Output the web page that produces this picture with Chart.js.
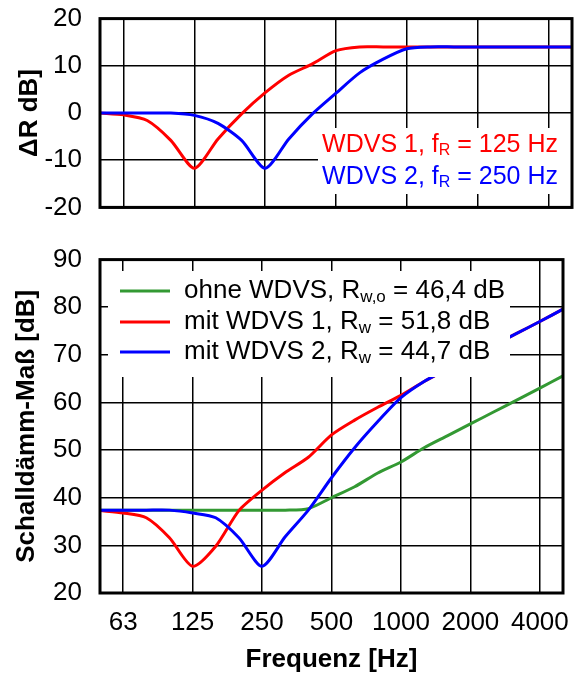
<!DOCTYPE html>
<html><head><meta charset="utf-8">
<script src="https://cdn.jsdelivr.net/npm/chart.js@4"></script>
<style>
html,body{margin:0;padding:0;background:#fff;}
#wrap{position:relative;width:577px;height:675px;overflow:hidden;}
#c1{position:absolute;left:0;top:-15px;}
#c2{position:absolute;left:0;top:226px;}
</style></head><body>
<div id="wrap">
<canvas id="c1" width="577" height="256" style="width:577px;height:256px"></canvas>
<canvas id="c2" width="577" height="449" style="width:577px;height:449px"></canvas>
</div>
<script>
// ---- data ----
const frequencies = ['50','63','80','100','125','160','200','250','315','400','500','630','800','1000','1250','1600','2000','2500','3150','4000','5000'];
const octaveTicks = ['63','125','250','500','1000','2000','4000'];
const deltaR1 = [0, -0.4, -1.6, -5.8, -11.7, -5.5, -0.2, 4.3, 8.0, 10.4, 13.2, 14.0, 14.0, 14.0, 14.0, 14.0, 14.0, 14.0, 14.0, 14.0, 14.0];
const deltaR2 = [0, 0, 0, 0, -0.5, -2.2, -5.8, -11.7, -5.5, -0.2, 4.2, 8.5, 11.4, 13.6, 14.0, 14.0, 14.0, 14.0, 14.0, 14.0, 14.0];
const rOhne  = [37.4, 37.4, 37.4, 37.4, 37.4, 37.4, 37.4, 37.4, 37.4, 37.7, 40.0, 42.3, 45.2, 47.5, 50.5, 53.0, 55.5, 58.0, 60.5, 63.0, 65.6];
const rWdvs1 = [37.3, 36.8, 35.8, 31.6, 25.6, 29.8, 37.3, 41.6, 45.3, 48.5, 53.2, 56.3, 59.0, 61.5, 64.4, 67.0, 69.5, 72.0, 74.5, 77.0, 79.6];
const rWdvs2 = [37.4, 37.4, 37.4, 37.4, 36.8, 35.8, 31.6, 25.6, 31.8, 37.4, 44.2, 50.5, 56.0, 61.0, 64.4, 67.0, 69.5, 72.0, 74.5, 77.0, 79.6];
const topNotes = [
  {parts: [['WDVS 1, f'], ['R', 1], [' = 125 Hz']], color: '#ff0000'},
  {parts: [['WDVS 2, f'], ['R', 1], [' = 250 Hz']], color: '#0000ff'}
];
const legendItems = [
  {parts: [['ohne WDVS, R'], ['w,o', 1], [' = 46,4 dB']], color: '#339933'},
  {parts: [['mit WDVS 1, R'], ['w', 1], [' = 51,8 dB']], color: '#ff0000'},
  {parts: [['mit WDVS 2, R'], ['w', 1], [' = 44,7 dB']], color: '#0000ff'}
];

const FONT = "'Liberation Sans', Arial, sans-serif";
const FS = 26;
Chart.defaults.color = '#000';
Chart.defaults.font.family = FONT;
Chart.defaults.font.size = FS;

function partsWidth(ctx, parts, size) {
  let w = 0;
  for (const p of parts) {
    ctx.font = (p[1] ? Math.round(size * 0.64) : size) + 'px ' + FONT;
    w += ctx.measureText(p[0]).width;
  }
  return w;
}
function drawParts(ctx, parts, x, y, color, size) {
  ctx.fillStyle = color;
  ctx.textBaseline = 'middle';
  ctx.textAlign = 'left';
  for (const p of parts) {
    ctx.font = (p[1] ? Math.round(size * 0.64) : size) + 'px ' + FONT;
    ctx.fillText(p[0], x, p[1] ? y + 6 : y);
    x += ctx.measureText(p[0]).width;
  }
}

const framePlugin = {
  id: 'frame',
  afterDraw(chart) {
    const a = chart.chartArea, ctx = chart.ctx;
    ctx.save();
    ctx.strokeStyle = '#000';
    ctx.lineWidth = 3;
    ctx.strokeRect(a.left, a.top, a.right - a.left, a.bottom - a.top);
    ctx.restore();
  }
};

// canvas 1 is offset by -15px, canvas 2 by +226px
const notesPlugin = {
  id: 'notes',
  afterDatasetsDraw(chart) {
    const ctx = chart.ctx, a = chart.chartArea;
    ctx.save();
    ctx.fillStyle = '#fff';
    ctx.fillRect(318, 143, a.right - 318, 66);
    const rightX = 558;
    const ys = [160, 192];
    topNotes.forEach((n, i) => {
      const w = partsWidth(ctx, n.parts, 25);
      drawParts(ctx, n.parts, rightX - w, ys[i], n.color, 25);
    });
    ctx.restore();
  }
};

const legendPlugin = {
  id: 'customLegend',
  afterDatasetsDraw(chart) {
    const ctx = chart.ctx;
    ctx.save();
    ctx.fillStyle = '#fff';
    ctx.fillRect(108, 45, 402, 106);
    const ys = [65, 96, 126];
    legendItems.forEach((it, i) => {
      ctx.strokeStyle = it.color;
      ctx.lineWidth = 3;
      ctx.beginPath();
      ctx.moveTo(120, ys[i]);
      ctx.lineTo(170, ys[i]);
      ctx.stroke();
      drawParts(ctx, it.parts, 184, ys[i], '#000', FS);
    });
    ctx.restore();
  }
};

function xScale(showLabels, height) {
  return {
    type: 'category',
    offset: false,
    border: {display: false},
    grid: {
      drawTicks: false,
      lineWidth: 1.5,
      color: (c) => (c.tick && octaveTicks.includes(frequencies[c.index])) ? '#000' : 'rgba(0,0,0,0)'
    },
    ticks: {
      display: showLabels,
      autoSkip: false,
      maxRotation: 0,
      minRotation: 0,
      padding: 14,
      font: {size: FS},
      callback: (v, i) => octaveTicks.includes(frequencies[i]) ? frequencies[i] : ''
    },
    afterFit: (s) => { s.height = height; }
  };
}
function yScale(min, max, title, titlePad) {
  return {
    min, max,
    border: {display: false},
    grid: {drawTicks: false, lineWidth: 1.5, color: '#000'},
    ticks: {stepSize: 10, padding: 18, font: {size: FS}},
    title: {display: true, text: title, font: {size: FS, weight: 'bold'}, padding: {top: titlePad, bottom: 0}},
    afterFit: (s) => { s.width = 100; }
  };
}
const lineDs = (data, color) => ({
  data, borderColor: color, backgroundColor: color, borderWidth: 3,
  pointRadius: 0, tension: 0.25, fill: false
});

new Chart(document.getElementById('c1'), {
  type: 'line',
  data: {
    labels: frequencies,
    datasets: [lineDs(deltaR2, '#0000ff'), lineDs(deltaR1, '#ff0000')]
  },
  options: {
    responsive: false, animation: false,
    layout: {padding: {left: 0, right: 5, top: 0, bottom: 0}},
    plugins: {legend: {display: false}, tooltip: {enabled: false}},
    scales: {x: xScale(false, 20), y: yScale(-20, 20, 'ΔR dB]', 14)}
  },
  plugins: [notesPlugin, framePlugin]
});

new Chart(document.getElementById('c2'), {
  type: 'line',
  data: {
    labels: frequencies,
    datasets: [lineDs(rWdvs2, '#0000ff'), lineDs(rWdvs1, '#ff0000'), lineDs(rOhne, '#339933')]
  },
  options: {
    responsive: false, animation: false,
    layout: {padding: {left: 0, right: 5, top: 0, bottom: 0}},
    plugins: {legend: {display: false}, tooltip: {enabled: false}},
    scales: {
      x: Object.assign(xScale(true, 82), {title: {display: true, text: 'Frequenz [Hz]', font: {size: FS, weight: 'bold'}, padding: {top: 0, bottom: 0}}}),
      y: yScale(20, 90, 'Schalldämm-Maß [dB]', 11)
    }
  },
  plugins: [legendPlugin, framePlugin]
});
</script>
</body></html>
